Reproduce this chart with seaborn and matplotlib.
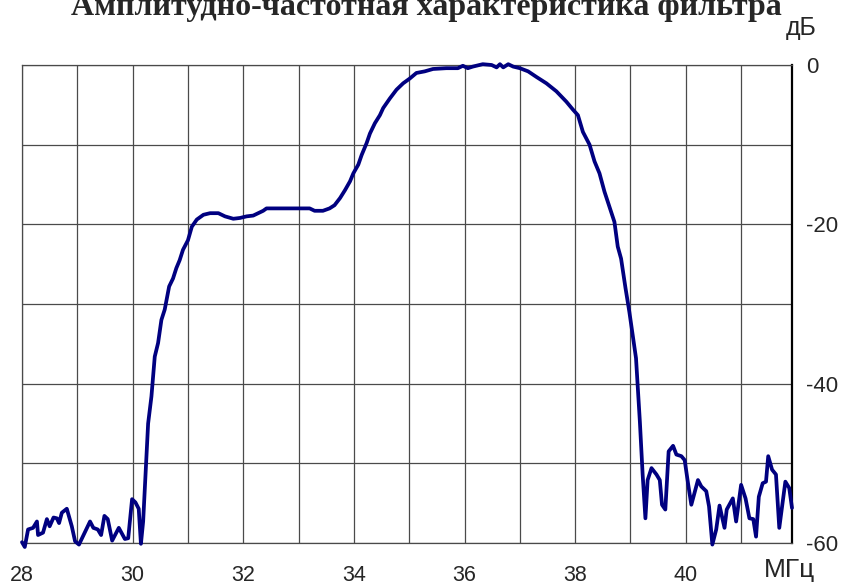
import numpy as np
import pandas as pd
import seaborn as sns
import matplotlib
matplotlib.use("Agg")
import matplotlib.pyplot as plt

# values: frequency (MHz) and level (dB)
freq = [28.00, 28.05, 28.11, 28.20, 28.27, 28.29, 28.38, 28.45, 28.50, 28.57,
        28.63, 28.67, 28.72, 28.81, 28.90, 28.96, 29.03, 29.14, 29.23, 29.29,
        29.37, 29.43, 29.49, 29.55, 29.63, 29.75, 29.86, 29.92, 29.99, 30.05,
        30.11, 30.15, 30.19, 30.24, 30.28, 30.34, 30.40, 30.46, 30.52, 30.58,
        30.66, 30.73, 30.79, 30.85, 30.91, 31.00, 31.07, 31.16, 31.28, 31.40,
        31.55, 31.67, 31.82, 31.94, 32.06, 32.18, 32.27, 32.36, 32.42, 32.80,
        33.20, 33.29, 33.44, 33.56, 33.65, 33.75, 33.84, 33.93, 33.99, 34.08,
        34.14, 34.23, 34.29, 34.38, 34.47, 34.53, 34.65, 34.77, 34.89, 35.01,
        35.13, 35.28, 35.43, 35.67, 35.88, 35.97, 36.06, 36.15, 36.33, 36.49,
        36.58, 36.64, 36.70, 36.79, 36.88, 37.00, 37.15, 37.30, 37.48, 37.66,
        37.84, 37.96, 38.05, 38.14, 38.26, 38.35, 38.44, 38.53, 38.62, 38.71,
        38.77, 38.83, 38.91, 38.98, 39.04, 39.10, 39.17, 39.22, 39.27, 39.31,
        39.38, 39.47, 39.53, 39.57, 39.63, 39.69, 39.77, 39.83, 39.92, 39.98,
        40.04, 40.10, 40.22, 40.28, 40.37, 40.42, 40.48, 40.55, 40.61, 40.70,
        40.74, 40.85, 40.91, 41.00, 41.08, 41.15, 41.22, 41.27, 41.32, 41.39,
        41.45, 41.49, 41.56, 41.63, 41.69, 41.80, 41.87, 41.92]
level = [-59.9, -60.5, -58.3, -58.1, -57.3, -59.0, -58.7, -57.0, -57.9, -56.8,
         -56.9, -57.5, -56.2, -55.7, -57.9, -59.8, -60.2, -58.6, -57.3, -58.1,
         -58.3, -59.0, -56.6, -57.0, -59.7, -58.1, -59.5, -59.4, -54.5, -54.9,
         -55.7, -60.1, -57.3, -50.4, -45.0, -41.6, -36.6, -34.9, -32.0, -30.7,
         -27.8, -26.8, -25.5, -24.5, -23.2, -22.0, -20.3, -19.4, -18.8, -18.6,
         -18.6, -19.0, -19.3, -19.2, -19.0, -18.9, -18.6, -18.3, -18.0, -18.0,
         -18.0, -18.3, -18.3, -18.0, -17.6, -16.7, -15.7, -14.6, -13.6, -12.5,
         -11.3, -9.8, -8.6, -7.3, -6.3, -5.4, -4.2, -3.1, -2.3, -1.7,
         -1.0, -0.8, -0.5, -0.4, -0.4, -0.1, -0.4, -0.2, 0.1, 0.0,
         -0.3, 0.1, -0.3, 0.1, -0.2, -0.4, -0.8, -1.5, -2.3, -3.3,
         -4.6, -5.6, -6.3, -8.4, -10.0, -12.1, -13.6, -15.9, -17.8, -19.7,
         -22.8, -24.3, -28.0, -31.0, -33.9, -36.8, -44.8, -51.4, -56.9, -52.1,
         -50.6, -51.4, -52.1, -55.2, -55.8, -48.5, -47.8, -48.9, -49.1, -49.6,
         -52.5, -55.2, -52.1, -52.9, -53.5, -55.4, -60.2, -58.3, -55.3, -58.1,
         -55.8, -54.4, -57.3, -52.7, -54.4, -56.9, -57.0, -59.2, -54.2, -52.5,
         -52.3, -49.1, -50.8, -51.4, -58.1, -52.3, -53.1, -55.6]

x_ticks = list(range(28, 42))
x_labels = [str(t) if t % 2 == 0 else "" for t in x_ticks]
y_ticks = list(range(-60, 1, 10))
y_labels = [str(t) if t % 20 == 0 else "" for t in y_ticks]

title = "Амплитудно-частотная характеристика фильтра"

sns.set_style("white")
plt.rcParams['font.family'] = ['Liberation Sans', 'DejaVu Sans']
plt.rcParams['axes.unicode_minus'] = False

df = pd.DataFrame({"f": freq, "db": level})

fig = plt.figure(figsize=(8.43, 5.82), dpi=100)
ax = fig.add_axes([22 / 843, 39 / 582, 770 / 843, 478 / 582])

sns.lineplot(data=df, x="f", y="db", ax=ax, color="#000080", lw=2.7,
             estimator=None, sort=False, clip_on=False, zorder=5)

ax.set_xlim(28, 41.92)
ax.set_ylim(-60, 0)
ax.set_xticks(x_ticks)
ax.set_xticklabels(x_labels)
ax.set_yticks(y_ticks)
ax.set_yticklabels(y_labels)
ax.yaxis.tick_right()
ax.tick_params(axis="x", length=0, pad=16, labelsize=15.5)
ax.tick_params(axis="y", length=0, pad=10, labelsize=16)
ax.grid(True, color="#4a4a4a", lw=0.9)
ax.set_xlabel("")
ax.set_ylabel("")
for side in ["top", "left", "bottom"]:
    ax.spines[side].set_color("#4a4a4a")
    ax.spines[side].set_linewidth(0.9)
ax.spines["right"].set_color("black")
ax.spines["right"].set_linewidth(1.6)

fig.text(426 / 843, 1 - 15 / 582, title, ha="center", va="baseline",
         fontsize=23, fontweight="bold", family="Liberation Serif")
fig.text(786 / 843, 1 - 35 / 582, "дБ", ha="left", va="baseline", fontsize=18)
fig.text(764 / 843, 1 - 577 / 582, "МГц", ha="left", va="baseline", fontsize=19)

fig.savefig("out.png", dpi=100)
